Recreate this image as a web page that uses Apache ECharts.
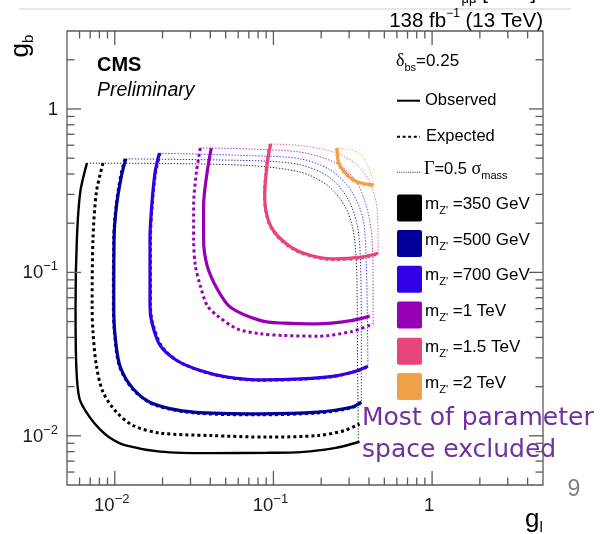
<!DOCTYPE html>
<html>
<head>
<meta charset="utf-8">
<title>Z' exclusion in gb vs gl</title>
<script src="https://cdn.jsdelivr.net/npm/echarts@6/dist/echarts.min.js"></script>
<style>
  html, body { margin: 0; padding: 0; background: #fff; }
  #main { width: 600px; height: 534px; }
</style>
</head>
<body>
<div id="main"></div>
<script>
// masses and colours (one per Z' mass hypothesis)
var masses = ['350 GeV', '500 GeV', '700 GeV', '1 TeV', '1.5 TeV', '2 TeV'];
var colors = ['#000000', '#000099', '#3000e8', '#9500b5', '#e8457a', '#f0a045'];

// observed limits [g_l, g_b]
var obs350 = [[0.00668,0.466],[0.00606,0.31],[0.00577,0.16],[0.00566,0.0627],[0.00572,0.0269],[0.0060,0.0168],[0.00695,0.013],[0.00804,0.011],[0.00953,0.0096],[0.0119,0.0087],[0.0193,0.0080],[0.0401,0.00783],[0.0916,0.00787],[0.149,0.00795],[0.242,0.0084],[0.349,0.0092]];
var obs500 = [[0.01175,0.495],[0.01103,0.391],[0.01026,0.256],[0.0099,0.16],[0.00986,0.0627],[0.0100,0.0431],[0.01076,0.0269],[0.01305,0.0194],[0.0175,0.0157],[0.0314,0.01396],[0.0831,0.01363],[0.19,0.01396],[0.309,0.01494],[0.358,0.01607]];
var obs700 = [[0.0191,0.536],[0.01795,0.41],[0.0171,0.256],[0.01667,0.16],[0.01667,0.0627],[0.0171,0.0496],[0.0193,0.0357],[0.0246,0.0289],[0.0346,0.0251],[0.0511,0.0229],[0.0831,0.022],[0.149,0.0223],[0.242,0.0232],[0.341,0.0251],[0.394,0.0267]];
var obs1000 = [[0.0406,0.577],[0.0382,0.41],[0.0363,0.256],[0.0363,0.16],[0.0382,0.11],[0.0442,0.0793],[0.0536,0.0612],[0.0831,0.0507],[0.1167,0.0489],[0.19,0.0484],[0.309,0.0507],[0.404,0.054]];
var obs1500 = [[0.0962,0.611],[0.0916,0.472],[0.0881,0.295],[0.0937,0.203],[0.1113,0.16],[0.149,0.133],[0.242,0.121],[0.358,0.124],[0.457,0.131]];
var obs2000 = [[0.252,0.575],[0.257,0.472],[0.281,0.41],[0.324,0.364],[0.376,0.348],[0.43,0.343]];

// expected limits
var exp350 = [[0.00843,0.466],[0.00766,0.31],[0.00729,0.16],[0.0072,0.0627],[0.00729,0.0431],[0.00766,0.0269],[0.00843,0.0185],[0.01026,0.01396],[0.01305,0.01156],[0.0193,0.01039],[0.0401,0.01004],[0.0916,0.00982],[0.19,0.01004],[0.281,0.01077],[0.349,0.01184]];
var exp500 = [[0.0116,0.495],[0.0109,0.391],[0.0102,0.256],[0.00985,0.16],[0.0098,0.0627],[0.00995,0.0431],[0.0107,0.0266],[0.0131,0.0191],[0.0177,0.0155],[0.0318,0.0138],[0.0831,0.01345],[0.19,0.0138],[0.309,0.0148],[0.358,0.0160]];
var exp700 = [[0.0193,0.536],[0.0181,0.41],[0.0172,0.256],[0.0168,0.16],[0.0168,0.0627],[0.0173,0.0493],[0.0198,0.0352],[0.0253,0.0285],[0.0355,0.0248],[0.0520,0.0227],[0.0831,0.0219],[0.149,0.0222],[0.242,0.0231],[0.341,0.0250],[0.394,0.0266]];
var exp1000 = [[0.0346,0.577],[0.0327,0.41],[0.0314,0.256],[0.0314,0.16],[0.0322,0.11],[0.0346,0.083],[0.0382,0.0627],[0.0442,0.0544],[0.0592,0.0451],[0.0831,0.0421],[0.1167,0.0411],[0.19,0.0407],[0.309,0.0434],[0.425,0.0484]];
var exp1500 = [[0.0955,0.611],[0.091,0.472],[0.0878,0.295],[0.0935,0.201],[0.111,0.158],[0.149,0.1315],[0.242,0.1195],[0.358,0.1225],[0.457,0.1295]];
var exp2000 = [[0.251,0.575],[0.256,0.47],[0.28,0.408],[0.323,0.362],[0.376,0.346],[0.43,0.341]];

// Gamma = 0.5 sigma_mass boundaries
var wid350 = [[0.00668,0.466],[0.0193,0.464],[0.0718,0.45],[0.149,0.41],[0.22,0.34],[0.281,0.256],[0.317,0.1845],[0.333,0.1155],[0.337,0.0721],[0.339,0.0296],[0.343,0.0092]];
var wid500 = [[0.01175,0.495],[0.0831,0.481],[0.149,0.4546],[0.2254,0.382],[0.2948,0.2815],[0.341,0.1845],[0.356,0.0912],[0.358,0.0392],[0.358,0.01607]];
var wid700 = [[0.0191,0.536],[0.0718,0.518],[0.149,0.4946],[0.231,0.42],[0.309,0.3164],[0.367,0.2124],[0.3846,0.1155],[0.391,0.0519],[0.394,0.0267]];
var wid1000 = [[0.0346,0.577],[0.0718,0.569],[0.149,0.5435],[0.242,0.472],[0.3246,0.373],[0.3846,0.2564],[0.4183,0.16],[0.425,0.0721],[0.425,0.0484]];
var wid1500 = [[0.0962,0.611],[0.149,0.5964],[0.242,0.5435],[0.341,0.45],[0.414,0.34],[0.452,0.2335],[0.457,0.131]];
var wid2000 = [[0.252,0.575],[0.341,0.5435],[0.394,0.45],[0.43,0.343]];

var observed = [obs350, obs500, obs700, obs1000, obs1500, obs2000];
var expected = [exp350, exp500, exp700, exp1000, exp1500, exp2000];
var widthCut = [wid350, wid500, wid700, wid1000, wid1500, wid2000];

// axes
var xRange = [0.005, 5];
var yRange = [0.005, 3];
var xMajor = [0.01, 0.1, 1];
var xMinor = [0.006,0.007,0.008,0.009,0.02,0.03,0.04,0.05,0.06,0.07,0.08,0.09,0.2,0.3,0.4,0.5,0.6,0.7,0.8,0.9,2,3,4];
var yMajor = [0.01, 0.1, 1];
var yMinor = [0.006,0.007,0.008,0.009,0.02,0.03,0.04,0.05,0.06,0.07,0.08,0.09,0.2,0.3,0.4,0.5,0.6,0.7,0.8,0.9,2];
var majorLabels = ['{n|10}{e|\u22122}', '{n|10}{e|\u22121}', '{n|1}'];

var SANS = '"Liberation Sans", Arial, sans-serif';
var SERIF = '"Liberation Serif", "Times New Roman", serif';
var frameCol = '#5a5a5a';

var labelRich = {
  n: { fontSize: 18.5, fontFamily: SANS, lineHeight: 26, fill: '#1a1a1a' },
  e: { fontSize: 13, fontFamily: SANS, lineHeight: 13, verticalAlign: 'top', fill: '#1a1a1a' }
};

function renderFrame(params, api) {
  var tl = api.coord([xRange[0], yRange[1]]);
  var br = api.coord([xRange[1], yRange[0]]);
  var kids = [];
  var st = { stroke: frameCol, lineWidth: 1.3 };
  function seg(x1, y1, x2, y2) {
    kids.push({ type: 'line', shape: { x1: x1, y1: y1, x2: x2, y2: y2 }, style: st });
  }
  kids.push({ type: 'rect', shape: { x: tl[0], y: tl[1], width: br[0] - tl[0], height: br[1] - tl[1] },
    style: { fill: null, stroke: frameCol, lineWidth: 1.3 } });
  function xTick(v, len) {
    var x = api.coord([v, yRange[0]])[0];
    seg(x, br[1], x, br[1] - len);
    seg(x, tl[1], x, tl[1] + len);
  }
  function yTick(v, len) {
    var y = api.coord([xRange[0], v])[1];
    seg(tl[0], y, tl[0] + len, y);
    seg(br[0], y, br[0] - len, y);
  }
  xMinor.forEach(function (v) { xTick(v, 7.5); });
  yMinor.forEach(function (v) { yTick(v, 7.5); });
  xMajor.forEach(function (v, i) {
    xTick(v, 14);
    var x = api.coord([v, yRange[0]])[0];
    kids.push({ type: 'text', style: { text: majorLabels[i], rich: labelRich, x: x - 3, y: br[1] + 21,
      align: 'center', verticalAlign: 'middle' } });
  });
  yMajor.forEach(function (v, i) {
    yTick(v, 14);
    var y = api.coord([xRange[0], v])[1];
    kids.push({ type: 'text', style: { text: majorLabels[i], rich: labelRich, x: tl[0] - 9, y: y + 1,
      align: 'right', verticalAlign: 'middle' } });
  });
  return { type: 'group', children: kids };
}

var series = [];
widthCut.forEach(function (d, i) {
  series.push({ name: 'width ' + masses[i], type: 'line', data: d, symbol: 'none', smooth: 0.3, z: 2,
    lineStyle: { color: colors[i], width: 1, type: [1.4, 1.6], opacity: 0.8 } });
});
observed.forEach(function (d, i) {
  series.push({ name: 'obs ' + masses[i], type: 'line', data: d, symbol: 'none', smooth: 0.3, z: 3,
    lineStyle: { color: colors[i], width: i === 0 ? 2.4 : 3.2, type: 'solid' } });
});
expected.forEach(function (d, i) {
  series.push({ name: 'exp ' + masses[i], type: 'line', data: d, symbol: 'none', smooth: 0.3, z: 4,
    lineStyle: { color: colors[i], width: 3, type: [3, 3] } });
});
series.push({ type: 'custom', renderItem: renderFrame, data: [[0.01, 0.01]], clip: false, silent: true, z: 10 });

// legend drawn by hand (ROOT style)
var legend = [];
var legX = 397;
legend.push({ type: 'text', left: legX - 1, top: 52, style: { text: '{g|\u03b4}{s|bs}{n|=0.25}', rich: {
  g: { fontSize: 18, fontFamily: SERIF, lineHeight: 24 },
  s: { fontSize: 11, fontFamily: SANS, lineHeight: 11, verticalAlign: 'bottom' },
  n: { fontSize: 17, fontFamily: SANS, lineHeight: 24 } } } });
legend.push({ type: 'line', shape: { x1: legX, y1: 100.7, x2: legX + 23, y2: 100.7 }, style: { stroke: '#000', lineWidth: 2 } });
legend.push({ type: 'text', x: 425, y: 100, style: { text: 'Observed', font: '16.5px ' + SANS, verticalAlign: 'middle' } });
legend.push({ type: 'line', shape: { x1: legX, y1: 136.7, x2: legX + 23, y2: 136.7 }, style: { stroke: '#000', lineWidth: 2, lineDash: [3, 2.6] } });
legend.push({ type: 'text', x: 426, y: 136, style: { text: 'Expected', font: '16.5px ' + SANS, verticalAlign: 'middle' } });
legend.push({ type: 'line', shape: { x1: legX, y1: 172.3, x2: legX + 23, y2: 172.3 }, style: { stroke: '#333', lineWidth: 1, lineDash: [1, 1.2] } });
legend.push({ type: 'text', left: 424, top: 160, style: { text: '{g|\u0393}{n|=0.5 }{g|\u03c3}{s|mass}', rich: {
  g: { fontSize: 18, fontFamily: SERIF, lineHeight: 24 },
  s: { fontSize: 11, fontFamily: SANS, lineHeight: 11, verticalAlign: 'bottom' },
  n: { fontSize: 16.5, fontFamily: SANS, lineHeight: 24 } } } });
var boxY = [208, 243.5, 279.3, 315, 351.2, 386.5];
masses.forEach(function (m, i) {
  legend.push({ type: 'rect', shape: { x: legX, y: boxY[i] - 13.5, width: 25, height: 27, r: 2 }, style: { fill: colors[i] } });
  legend.push({ type: 'text', left: 425, top: boxY[i] - 12, style: { text: '{n|m}{s|Z\'}{n| =' + m + '}', rich: {
    n: { fontSize: 17, fontFamily: SANS, lineHeight: 24 },
    s: { fontSize: 11, fontFamily: SANS, lineHeight: 11, verticalAlign: 'bottom' } } } });
});

var annot = [
  { type: 'line', shape: { x1: 19, y1: 9, x2: 571, y2: 9 }, style: { stroke: '#cfcfcf', lineWidth: 1 } },
  { type: 'text', right: 64, top: -17, style: { text: '{n|m}{s|\u03bc\u03bc}{n| [GeV]}', rich: {
    n: { fontSize: 21, fontFamily: SANS, lineHeight: 24 },
    s: { fontSize: 13, fontFamily: SANS, lineHeight: 13, verticalAlign: 'bottom' } } } },
  { type: 'text', right: 57, top: 8, style: { text: '{n|138 fb}{e|\u22121}{n| (13 TeV)}', rich: {
    n: { fontSize: 20.5, fontFamily: SANS, lineHeight: 26 },
    e: { fontSize: 12, fontFamily: SANS, lineHeight: 12, verticalAlign: 'top' } } } },
  { type: 'text', x: 97, y: 65, style: { text: 'CMS', font: 'bold 20px ' + SANS, verticalAlign: 'middle' } },
  { type: 'text', x: 97, y: 91, style: { text: 'Preliminary', font: 'italic 19.5px ' + SANS, verticalAlign: 'middle' } },
  { type: 'text', x: 21, y: 46, rotation: Math.PI / 2, style: { text: '{n|g}{s|b}', align: 'center', verticalAlign: 'middle', rich: {
    n: { fontSize: 26, fontFamily: SANS, lineHeight: 30 },
    s: { fontSize: 15, fontFamily: SANS, lineHeight: 15, verticalAlign: 'bottom' } } } },
  { type: 'text', x: 534, y: 520, style: { text: '{n|g}{s|l}', align: 'center', verticalAlign: 'middle', rich: {
    n: { fontSize: 26, fontFamily: SANS, lineHeight: 30 },
    s: { fontSize: 15, fontFamily: SANS, lineHeight: 15, verticalAlign: 'bottom' } } } },
  { type: 'text', x: 574, y: 490, style: { text: '9', font: '23px ' + SANS, fill: '#808080', align: 'center', verticalAlign: 'middle' } },
  { type: 'text', x: 362, y: 418, style: { text: 'Most of parameter', font: '25px "DejaVu Sans"', fill: '#7030a0', verticalAlign: 'middle' } },
  { type: 'text', x: 362, y: 450, style: { text: 'space excluded', font: '25px "DejaVu Sans"', fill: '#7030a0', verticalAlign: 'middle' } }
];

var chart = echarts.init(document.getElementById('main'), null, { renderer: 'canvas' });
chart.setOption({
  backgroundColor: '#fff',
  animation: false,
  grid: { left: 67, right: 57, top: 31, bottom: 49 },
  xAxis: { type: 'log', logBase: 10, min: xRange[0], max: xRange[1],
    axisLine: { show: false }, axisTick: { show: false }, axisLabel: { show: false }, splitLine: { show: false } },
  yAxis: { type: 'log', logBase: 10, min: yRange[0], max: yRange[1],
    axisLine: { show: false }, axisTick: { show: false }, axisLabel: { show: false }, splitLine: { show: false } },
  series: series,
  graphic: legend.concat(annot)
});
</script>
</body>
</html>
